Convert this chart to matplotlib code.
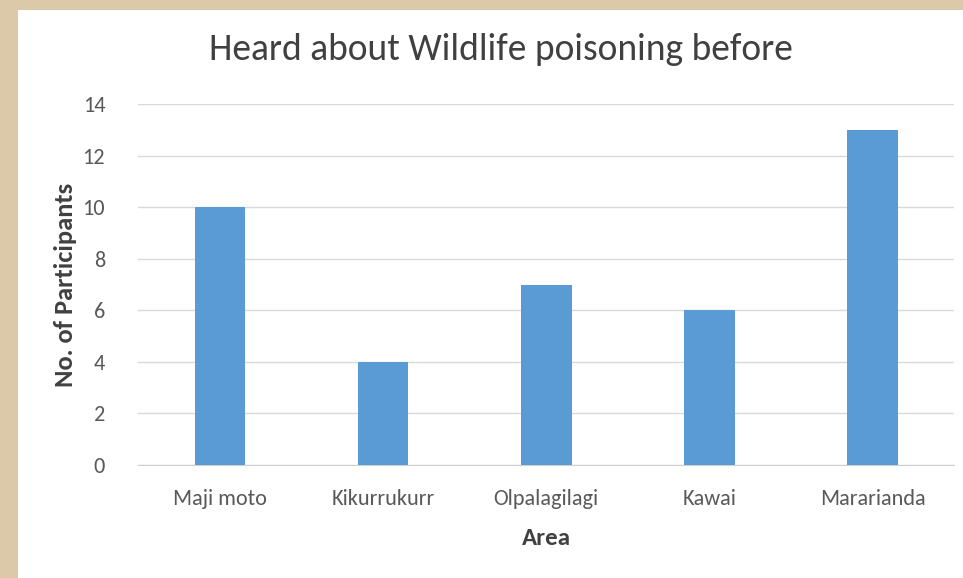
import matplotlib.pyplot as plt
from matplotlib.patches import Rectangle

areas = ['Maji moto', 'Kikurrukurr', 'Olpalagilagi', 'Kawai', 'Mararianda']
participants = [10, 4, 7, 6, 13]
y_ticks = [0, 2, 4, 6, 8, 10, 12, 14]

plt.rcParams['font.family'] = ['Carlito', 'Liberation Sans Narrow', 'Archivo Narrow', 'DejaVu Sans']

fig = plt.figure(figsize=(9.63, 5.78), dpi=100)
fig.patch.set_facecolor('#dcc9a9')

# white chart panel on the parchment background
bg = fig.add_axes([0, 0, 1, 1], zorder=-1)
bg.axis('off')
bg.set_xlim(0, 963)
bg.set_ylim(578, 0)
bg.add_patch(Rectangle((18, 10), 963, 578, facecolor='white', edgecolor='none'))

ax = fig.add_axes([0.1438, 0.1955, 0.847, 0.6245])
ax.patch.set_alpha(0)
ax.bar(range(len(areas)), participants, width=0.31, color='#5b9bd5', zorder=3)

ax.set_xlim(-0.5, len(areas) - 0.5)
ax.set_ylim(0, 14)
ax.set_yticks(y_ticks)
ax.set_xticks(range(len(areas)))
ax.set_xticklabels(areas)
ax.tick_params(axis='both', length=0, labelsize=16, colors='#595959')
ax.tick_params(axis='y', pad=24)
ax.tick_params(axis='x', pad=17)
ax.grid(axis='y', color='#d9d9d9', linewidth=1, zorder=0)
ax.set_axisbelow(True)
for side in ['top', 'right', 'left']:
    ax.spines[side].set_visible(False)
ax.spines['bottom'].set_color('#d0d0d0')

ax.set_xlabel('Area', fontsize=18, fontweight='bold', color='#404040', labelpad=14)
ax.set_ylabel('No. of Participants', fontsize=19, fontweight='bold', color='#404040', labelpad=4)
fig.text(0.520, 0.915, 'Heard about Wildlife poisoning before', ha='center', va='center',
         fontsize=27, color='#404040')

fig.savefig('out.png', dpi=100, facecolor=fig.get_facecolor())
